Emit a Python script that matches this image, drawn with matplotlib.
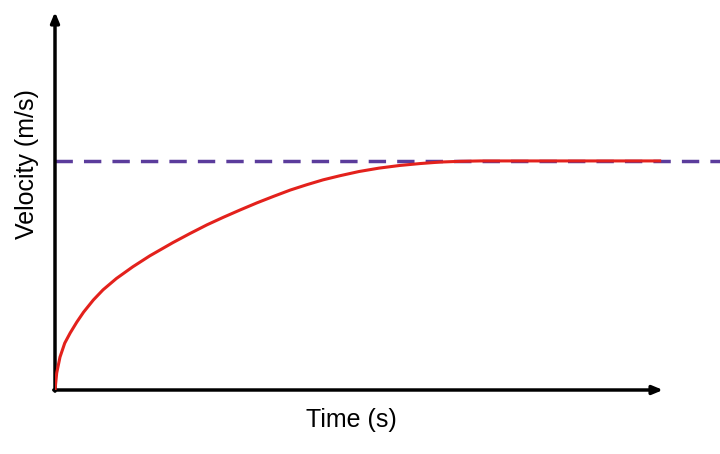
import matplotlib
matplotlib.use('Agg')
import matplotlib.pyplot as plt

# velocity vs time (arbitrary units)
t = [0.0, 0.028, 0.082, 0.16, 0.25, 0.36, 0.47, 0.63, 0.79, 1.01, 1.28, 1.56,
     1.94, 2.22, 2.50, 2.77, 3.04, 3.32, 3.59, 3.87, 4.14, 4.41, 4.69,
     5.0, 5.33, 5.67, 6.0, 6.33, 6.67, 7.0, 9.97]
v = [0.0, 0.45, 0.87, 1.24, 1.51, 1.80, 2.06, 2.38, 2.65, 2.95, 3.26, 3.55,
     3.90, 4.14, 4.37, 4.57, 4.76, 4.95, 5.12, 5.29, 5.43, 5.56, 5.67,
     5.78, 5.87, 5.94, 5.99, 6.03, 6.05, 6.06, 6.06]
v_terminal = 6.06

plt.rcParams['font.family'] = ['Liberation Sans', 'DejaVu Sans']

fig = plt.figure(figsize=(7.2, 4.54), dpi=100)
ax = fig.add_axes([55/720, 1-390/454, 608/720, 378/454])
ax.set_xlim(0, 10)
ax.set_ylim(0, 10)
for s in ax.spines.values():
    s.set_visible(False)
ax.set_xticks([])
ax.set_yticks([])

# axes with arrow heads
arrow = dict(arrowstyle='-|>,head_length=0.6,head_width=0.25', lw=2.5,
             color='black', shrinkA=0, shrinkB=0)
ax.annotate('', xy=(10, 0), xytext=(-0.02, 0), arrowprops=arrow, annotation_clip=False)
ax.annotate('', xy=(0, 10), xytext=(0, -0.03), arrowprops=arrow, annotation_clip=False)

ax.plot([0, 11], [v_terminal, v_terminal], color='#5b3c9c', lw=2.5,
        dashes=(5, 3.2), clip_on=False, zorder=2)
ax.plot(t, v, color='#e3211c', lw=2.2, zorder=3, solid_capstyle='butt',
        solid_joinstyle='round')

fig.text(351/720, 1-420/454, 'Time (s)', ha='center', va='center', fontsize=18)
fig.text(27/720, 1-164/454, 'Velocity (m/s)', ha='center', va='center',
         fontsize=18, rotation=90)

fig.savefig('out.png', dpi=100)
